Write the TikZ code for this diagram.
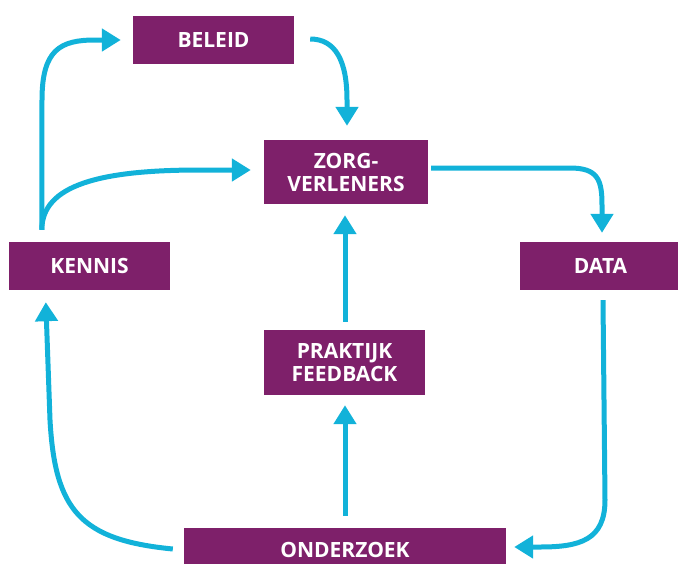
\documentclass[tikz,border=0pt]{standalone}
\usepackage{fontspec}
\setmainfont{Open Sans}
\usetikzlibrary{arrows.meta,calc}
\definecolor{boxpurple}{RGB}{126,32,106}
\definecolor{flowcyan}{RGB}{18,178,217}
\begin{document}
\begin{tikzpicture}[x=1pt,y=-1pt,
  box/.style={fill=boxpurple,text=white,inner sep=0pt,font=\fontsize{21}{23}\selectfont\bfseries,align=center},
  onebox/.style={box,text height=15pt,text depth=0pt},
  flow/.style={draw=flowcyan,line width=5pt,-{Triangle[width=22pt,length=19pt]}}]
\useasboundingbox (0,0) rectangle (678,563);
\begin{scope}
\clip (0,0) rectangle (678,563);
\node[onebox,minimum width=161pt,minimum height=48pt] (beleid) at (213.5,40) {BELEID};
\node[box,minimum width=164pt,minimum height=64pt] (zorg) at (346,172) {ZORG-\\VERLENERS};
\node[onebox,minimum width=161pt,minimum height=48pt] (kennis) at (89.5,266) {KENNIS};
\node[onebox,minimum width=161pt,minimum height=48pt] (data) at (600.5,266) {DATA};
\node[box,minimum width=161pt,minimum height=65pt] (praktijk) at (344.5,362.5) {PRAKTIJK\\FEEDBACK};
\node[onebox,minimum width=322pt,minimum height=44pt] (onderzoek) at (345,550) {ONDERZOEK};
\end{scope}
% KENNIS -> BELEID
\draw[flow] ($(kennis.north west)+(33,-12)$) -- (42,100) .. controls (42,50) and (60,40) .. (95,40) -- ($(beleid.west)+(-12,0)$);
% KENNIS -> ZORGVERLENERS
\draw[flow] ($(kennis.north west)+(33,-12)$) .. controls (42,185) and (100,170) .. (200,170) -- ($(zorg.west)+(-13,-2)$);
% BELEID -> ZORGVERLENERS
\draw[flow] ($(beleid.east)+(16,-1)$) .. controls (335,39) and (347,60) .. (347,100) -- ($(zorg.north)+(1,-14)$);
% ZORGVERLENERS -> DATA
\draw[flow] ($(zorg.east)+(3,-4)$) -- (570,168) .. controls (598,168) and (602,180) .. (602,205) -- ($(data.north)+(1.5,-9)$);
% DATA -> ONDERZOEK
\draw[flow] ($(data.south)+(2.5,10)$) -- (605,500) .. controls (605,540) and (580,547) .. (540,547) -- ($(onderzoek.east)+(8,-3)$);
% ONDERZOEK -> KENNIS
\draw[flow] ($(onderzoek.west)+(-11,-1)$) .. controls (80,540) and (55,510) .. (50,420) -- ($(kennis.south west)+(37,12)$);
% ONDERZOEK -> PRAKTIJK FEEDBACK
\draw[flow] ($(onderzoek.north)+(0,-12)$) -- ($(praktijk.south)+(0.5,10)$);
% PRAKTIJK FEEDBACK -> ZORGVERLENERS
\draw[flow] ($(praktijk.north)+(0.5,-8)$) -- ($(zorg.south)+(-1,11)$);
\end{tikzpicture}
\end{document}
